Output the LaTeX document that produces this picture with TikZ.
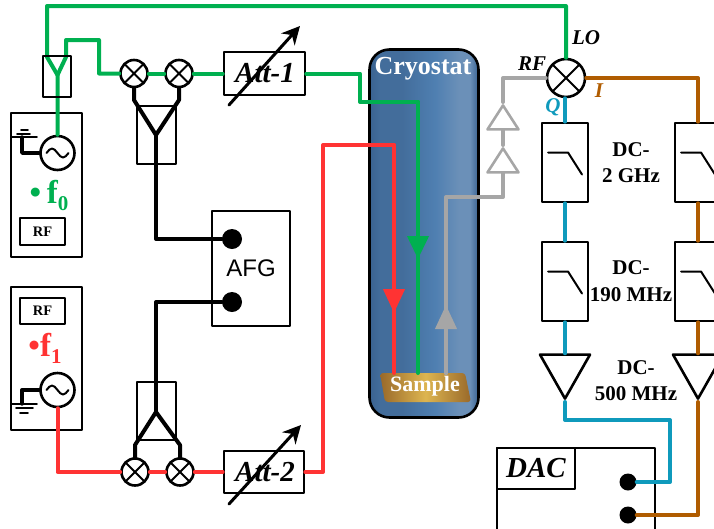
\documentclass[tikz,border=0pt]{standalone}
\usepackage{fontspec}
\setmainfont{Liberation Serif}
\newfontfamily\afgfont{Liberation Sans}
\usetikzlibrary{arrows.meta,shapes.geometric}
\newcommand{\fsz}[1]{\fontsize{#1}{#1}\selectfont}
\definecolor{cryoA}{HTML}{3A6391}
\definecolor{cryoB}{HTML}{436D9B}
\definecolor{cryoC}{HTML}{4F7FB1}
\definecolor{cryoD}{HTML}{6B90B8}
\definecolor{goldA}{HTML}{99692A}
\definecolor{goldB}{HTML}{DDB550}
\definecolor{wGreen}{HTML}{00B050}
\definecolor{wRed}{HTML}{FF3333}
\definecolor{wGrey}{HTML}{A6A6A6}
\definecolor{wBrown}{HTML}{B05C00}
\definecolor{wBlue}{HTML}{0F9ABC}
\pgfdeclarehorizontalshading{cryoshade}{100bp}{color(0bp)=(cryoA);color(25bp)=(cryoA);color(30bp)=(cryoB);color(40bp)=(cryoB);color(55bp)=(cryoC);color(66bp)=(cryoD);color(71bp)=(cryoD);color(75bp)=(cryoA);color(100bp)=(cryoA)}
\pgfdeclarehorizontalshading{goldshade}{100bp}{color(0bp)=(goldA);color(25bp)=(goldA);color(50bp)=(goldB);color(75bp)=(goldA);color(100bp)=(goldA)}
\tikzset{
	box/.style={draw,line width=2.6pt,fill=white,inner sep=0pt,minimum width=#1},
	mixer/.style={circle,draw,line width=2.6pt,fill=white,inner sep=0pt,minimum size=#1,
		path picture={\draw[line width=2pt] (path picture bounding box.north west) -- (path picture bounding box.south east) (path picture bounding box.north east) -- (path picture bounding box.south west);}},
	source/.style={circle,draw,line width=2.6pt,fill=white,inner sep=0pt,minimum size=34pt,
		path picture={\draw[line width=2pt] (path picture bounding box.center) ++(-11,0) sin ++(5.5,-4.5) cos ++(5.5,4.5) sin ++(5.5,4.5) cos ++(5.5,-4.5);}},
	lowpass/.style={draw,line width=2.6pt,fill=white,inner sep=0pt,minimum width=46pt,minimum height=79pt,
		path picture={\draw[line width=2pt] (path picture bounding box.center) ++(-17,-10) -- ++(20,0) -- ++(14,22);}},
	amp/.style={isosceles triangle,isosceles triangle stretches,draw,line width=2.6pt,fill=white,inner sep=0pt,shape border rotate=#1,minimum width=50pt,minimum height=44pt},
	preamp/.style={isosceles triangle,isosceles triangle stretches,draw=wGrey,line width=2.6pt,fill=none,inner sep=0pt,shape border rotate=90,minimum width=31pt,minimum height=24pt},
	port/.style={circle,fill=black,inner sep=0pt,minimum size=#1},
	wire/.style={line width=4pt},
	rflabel/.style={inner sep=0pt,font=\fsz{21}\bfseries},
	italabel/.style={inner sep=0pt,font=\fsz{21}\bfseries\itshape}
}
\begin{document}
\begin{tikzpicture}[x=1pt,y=-1pt,line join=round,line cap=round,>={Stealth[length=18pt,width=18pt]}]
	\path[use as bounding box,clip] (0,0) rectangle (714,528);
	% cryostat and sample
	\node[rounded corners=20pt,draw,line width=2.6pt,shading=cryoshade,minimum width=109pt,minimum height=368pt,inner sep=0pt] (cryo) at (424,233.5) {};
	\node[inner sep=0pt,text=white,font=\fsz{26}\bfseries] (cryotext) at (423,69) {Cryostat};
	\path[rounded corners=3pt,shading=goldshade] (380,373) -- (465,373) -- (471,402) -- (385,402) -- cycle;
	\node[inner sep=0pt,text=white,font=\fsz{22}\bfseries] (sample) at (425,386) {Sample};
	% sources
	\node[box=71pt,minimum height=144pt] (genA) at (46.5,185) {};
	\node[box=71pt,minimum height=143pt] (genB) at (46.5,358.5) {};
	\node[box=45pt,minimum height=27pt,font=\fsz{14.5}\bfseries] (rfA) at (42.5,231.5) {RF};
	\node[box=45pt,minimum height=26pt,font=\fsz{14.5}\bfseries] (rfB) at (42.5,311) {RF};
	\node[source] (acA) at (57.5,153) {};
	\node[source] (acB) at (57.5,390) {};
	\node[inner sep=0pt,text=wGreen,font=\fsz{33}\bfseries] (fA) at (49,195) {\textbullet\,f\raisebox{-7pt}{\fsz{21}0}};
	\node[inner sep=0pt,text=wRed,font=\fsz{33}\bfseries] (fB) at (45,348) {\textbullet f\raisebox{-7pt}{\fsz{21}1}};
	% grounds
	\coordinate (gndA) at (22,137);
	\coordinate (gndB) at (22,404);
	\draw[line width=3.4pt] (acA.west) -| (gndA);
	\draw[line width=3.4pt] (acB.west) -| (gndB);
	\draw[line width=1.8pt] (12,137) -- (37,137) (17,134) -- (30,134) (21,130) -- (28,130);
	\draw[line width=1.8pt] (12,404) -- (37,404) (16,408) -- (33,408) (20,413) -- (28,413);
	% mixers and attenuators
	\node[mixer=27pt] (mixA) at (134,73.5) {};
	\node[mixer=27pt] (mixB) at (179,73.5) {};
	\node[mixer=27pt] (mixC) at (135,472) {};
	\node[mixer=27pt] (mixD) at (180,472) {};
	\node[mixer=38pt] (mixIQ) at (566,78) {};
	\node[box=81pt,minimum height=43pt] (attA) at (264.5,73.5) {};
	\node[box=80pt,minimum height=42pt] (attB) at (264,472) {};
	\draw[->,line width=3pt] (229,105) -- (300,26);
	\draw[->,line width=3pt] (229,504) -- (301,425);
	\node[inner sep=0pt,font=\fsz{29}\bfseries\itshape] (attAtext) at (265,73) {Att-1};
	\node[inner sep=0pt,font=\fsz{29}\bfseries\itshape] (attBtext) at (265,472) {Att-2};
	% AFG
	\node[box=78pt,minimum height=115pt,font=\afgfont\fsz{24}] (afg) at (251,268.5) {AFG};
	\node[port=20pt] (afgA) at (232,239) {};
	\node[port=20pt] (afgB) at (232,302) {};
	% filters, amplifiers, DAC
	\node[lowpass] (lpfQa) at (565,162.5) {};
	\node[lowpass] (lpfQb) at (565,281.5) {};
	\node[lowpass] (lpfIa) at (698,162.5) {};
	\node[lowpass] (lpfIb) at (698,281.5) {};
	\node[amp=-90,anchor=apex] (ampQ) at (565,402) {};
	\node[amp=-90,anchor=apex] (ampI) at (698,402) {};
	\node[preamp,anchor=apex] (preA) at (503,102) {};
	\node[preamp,anchor=apex] (preB) at (503,145) {};
	\node[box=158pt,minimum height=100pt] (dac) at (576,498) {};
	\node[box=78pt,minimum height=41pt,font=\fsz{29}\bfseries\itshape] (dactext) at (536,468.5) {DAC};
	\node[port=17pt] (dacQ) at (628,482) {};
	\node[port=17pt] (dacI) at (628,515) {};
	% green lines
	\coordinate (yLo) at (57.5,75);
	\coordinate (loTop) at (47,6);
	\coordinate (loTurn) at (66,40);
	\coordinate (cryoIn) at (360,102);
	\draw[wire,wGreen] (acA.north) -- (yLo) -- (47,57) -- (loTop) -| (mixIQ.north);
	\draw[wire,wGreen] (yLo) -- (66,57) -- (loTurn) -- (99,40) |- (mixA.west);
	\draw[wire,wGreen] (mixA.east) -- (mixB.west) (mixB.east) -- (attA.west);
	\draw[wire,wGreen] (attA.east) -| (cryoIn) -| (418,373);
	\draw[wire,wGreen,-{Triangle[length=23pt,width=21pt]}] (418,102) -- (418,259);
	% red lines
	\coordinate (prTurn) at (323,145);
	\draw[wire,wRed] (acB.south) |- (mixC.west);
	\draw[wire,wRed] (mixC.east) -- (mixD.west) (mixD.east) -- (attB.west);
	\draw[wire,wRed] (attB.east) -| (prTurn) -| (394,373);
	\draw[wire,wRed,-{Triangle[length=24pt,width=21pt]}] (394,145) -- (394,313);
	% grey lines
	\coordinate (sigTurn) at (446,197);
	\draw[wire,wGrey] (446,373) -- (sigTurn) -| (preB.south);
	\draw[wire,wGrey] (preB.apex) -- (preA.south);
	\draw[wire,wGrey] (preA.apex) |- (mixIQ.west);
	\draw[wire,wGrey,-{Triangle[length=24pt,width=21pt]}] (446,373) -- (446,305);
	% IQ outputs
	\draw[wire,wBlue] (mixIQ.south -| lpfQa.north) -- (lpfQa.north);
	\draw[wire,wBlue] (lpfQa.south) -- (lpfQb.north) (lpfQb.south) -- (ampQ.north);
	\draw[wire,wBlue] (ampQ.apex) -- (565,420) -- (670,420) |- (dacQ);
	\draw[wire,wBrown] (mixIQ.east) -| (lpfIa.north);
	\draw[wire,wBrown] (lpfIa.south) -- (lpfIb.north) (lpfIb.south) -- (ampI.north);
	\draw[wire,wBrown] (ampI.apex) |- (dacI);
	% splitters
	\node[box=28pt,minimum height=41pt,fill=none] (splitLo) at (57,76.5) {};
	\node[box=39pt,minimum height=58pt,fill=none] (splitA) at (156.5,135) {};
	\node[box=39pt,minimum height=58pt,fill=none] (splitB) at (156.5,411) {};
	% black lines
	\coordinate (tipA) at (156,135);
	\coordinate (tipB) at (156,412);
	\draw[wire,black] (mixA.south) -- (134,100) -- (tipA) -- (179,100) -- (mixB.south);
	\draw[wire,black] (tipA) |- (afgA);
	\draw[wire,black] (mixC.north) -- (135,445) -- (tipB) -- (180,445) -- (mixD.north);
	\draw[wire,black] (tipB) |- (afgB);
	% labels
	\node[italabel] (lolabel) at (586,38) {LO};
	\node[italabel] (rflabel) at (532,64) {RF};
	\node[italabel,text=wBlue] (qlabel) at (553,107) {Q};
	\node[italabel,text=wBrown] (ilabel) at (599,91) {I};
	\node[rflabel] (dcA) at (631,150) {DC-};
	\node[rflabel] (ghz) at (631,176) {2 GHz};
	\node[rflabel] (dcB) at (631,268) {DC-};
	\node[rflabel] (mhzA) at (631,295) {190 MHz};
	\node[rflabel] (dcC) at (636,368) {DC-};
	\node[rflabel] (mhzB) at (636,394) {500 MHz};
\end{tikzpicture}
\end{document}
